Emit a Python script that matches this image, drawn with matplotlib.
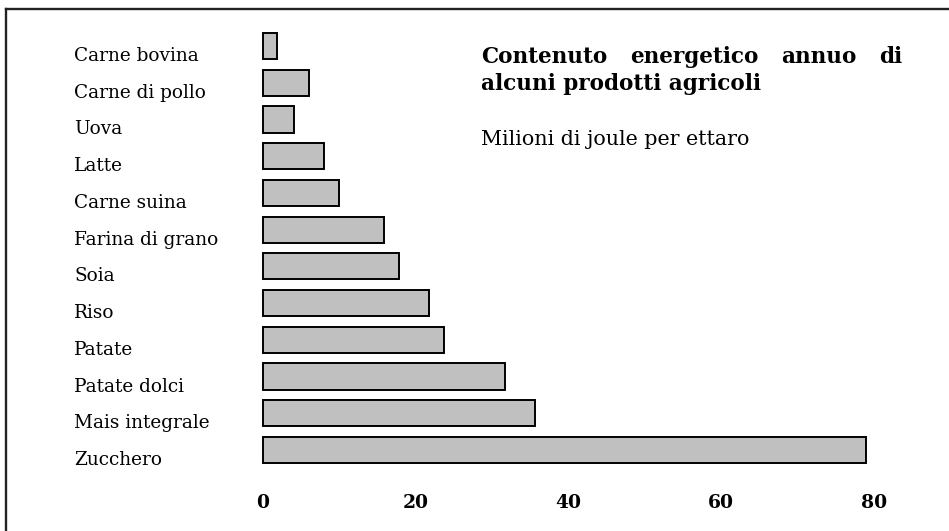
import matplotlib

matplotlib.use("Agg")

import numpy as np
import matplotlib.pyplot as plt
from matplotlib.lines import Line2D
from matplotlib.transforms import blended_transform_factory, offset_copy

# data, top to bottom
prodotti = ['Carne bovina', 'Carne di pollo', 'Uova', 'Latte', 'Carne suina',
            'Farina di grano', 'Soia', 'Riso', 'Patate', 'Patate dolci',
            'Mais integrale', 'Zucchero']
energia = [1.9, 6.0, 4.1, 8.0, 10.0, 15.9, 17.8, 21.8, 23.7, 31.7, 35.6, 79.0]
xticks = [0, 20, 40, 60, 80]

FONT = 'DejaVu Serif'
W, H = 949, 531

fig = plt.figure(figsize=(W / 100, H / 100), dpi=100)
ax = fig.add_axes([262.7 / W, (H - 463) / H, (874 - 262.7) / W, (463 - 33) / H])

bar_h = 0.71
y = np.arange(len(prodotti))
bars = ax.barh(y, energia, height=bar_h, color='#c0c0c0', edgecolor='black', linewidth=1.4)
for b in bars:
    b.set_clip_on(False)
ax.set_xlim(0, 80)
ax.set_ylim(len(prodotti) - 1 + bar_h / 2, -bar_h / 2)

ax.set_xticks(xticks)
ax.set_xticklabels([str(t) for t in xticks], fontfamily=FONT, fontweight='bold', fontsize=13.5)
ax.tick_params(axis='x', length=0, pad=22)
ax.set_yticks([])
for s in ax.spines.values():
    s.set_visible(False)

# category labels, left aligned
tr = blended_transform_factory(fig.transFigure, ax.transData)
tr = offset_copy(tr, fig=fig, y=-15, units='dots')
for i, name in enumerate(prodotti):
    fig.text(74 / W, i, name, transform=tr, fontfamily=FONT, fontsize=13.3,
             ha='left', va='baseline')

# title, first line justified
renderer = fig.canvas.get_renderer()
words = ['Contenuto', 'energetico', 'annuo', 'di']
x0, x1 = 481 / W, 902 / W
yt = 1 - 63 / H
txts = [fig.text(x0, yt, w, fontfamily=FONT, fontweight='bold', fontsize=15.5, va='baseline')
        for w in words]
widths = [t.get_window_extent(renderer).width / W for t in txts]
gap = (x1 - x0 - sum(widths)) / (len(words) - 1)
pos = x0
for t, w in zip(txts, widths):
    t.set_x(pos)
    pos += w + gap

fig.text(x0, 1 - 90 / H, 'alcuni prodotti agricoli', fontfamily=FONT, fontweight='bold',
         fontsize=15.5, va='baseline')
fig.text(x0, 1 - 145 / H, 'Milioni di joule per ettaro', fontfamily=FONT, fontsize=14.9,
         va='baseline')

# frame lines (left and top)
fig.add_artist(Line2D([5.5 / W, 5.5 / W], [0, 1 - 9 / H], transform=fig.transFigure,
                      color='#222222', linewidth=1.7))
fig.add_artist(Line2D([5.5 / W, 1], [1 - 9 / H, 1 - 9 / H], transform=fig.transFigure,
                      color='#222222', linewidth=1.7))

plt.savefig('out.png', dpi=100)
